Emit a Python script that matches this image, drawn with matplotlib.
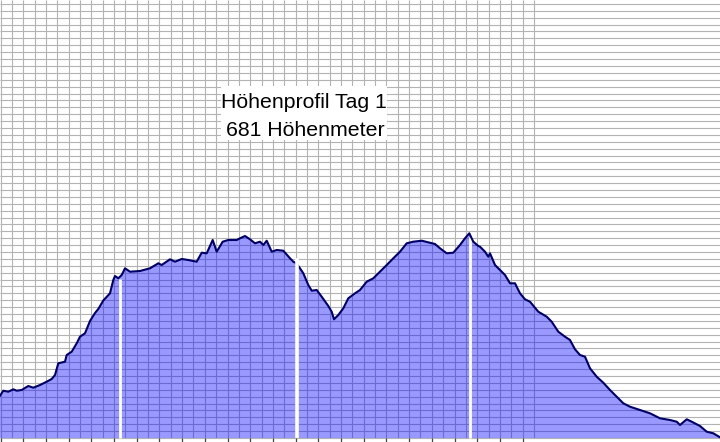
import numpy as np
import matplotlib
matplotlib.use("Agg")
import matplotlib.pyplot as plt
from matplotlib.patches import Rectangle

# Hoehenprofil Tag 1 (Strecke / Hoehe, Bildeinheiten)
dist = [0, 3.3, 8.3, 13.3, 16.7, 21.7, 28.3, 33.3, 40, 46.7, 51.7, 55, 58.3, 65, 66.7,
        71.7, 76.7, 80, 85, 90, 95, 98.3, 103.3, 110, 113.3, 115, 118.3, 121.7, 125,
        130, 140, 150, 158.3, 161.7, 170, 175, 181.7, 188.3, 196.7, 201.7, 206.7,
        212.7, 216.7, 222.7, 228.3, 236.7, 240, 245, 250, 255, 260, 263.3, 266.7,
        271.7, 276.7, 283.3, 290, 293.3, 296, 299.3, 303.3, 308.3, 311.7, 316.7,
        321.7, 328.3, 331.7, 334, 338.3, 343.3, 348.3, 355, 360, 366.7, 373.3, 380,
        386.7, 393.3, 400, 406.7, 413.3, 421.7, 430, 435, 440, 446.7, 453.3, 460,
        465, 469.3, 473.3, 478.3, 480, 485, 488.3, 490, 495, 500, 505, 510, 515,
        520, 525, 530, 538.3, 546.7, 551.7, 558.3, 565, 570, 575, 580, 585, 590,
        596.7, 603.3, 610, 616.7, 623.3, 630, 640, 650, 660, 670, 676.7, 680,
        686.7, 691.7, 700, 706.7, 713.3, 720]
hoehe = [46.3, 51.3, 50.3, 52.7, 51.3, 52, 56, 54.3, 57, 60.3, 63, 67, 78.7, 80.3, 87,
         90.3, 98.7, 105.3, 108.7, 121, 129, 133, 141.5, 148.7, 162, 166, 163.7, 167,
         173.7, 170.3, 171, 173.7, 178.7, 177, 182.7, 180.3, 183, 182, 180.3, 189.3,
         188.7, 202, 190.3, 200.3, 202, 202, 203.7, 206, 202.7, 198.7, 200.3, 197,
         201.3, 190.3, 192, 191.3, 183.7, 180.3, 179, 174.7, 168.7, 157, 151.3, 152,
         145.3, 136, 130.3, 122.7, 127, 133.7, 143.7, 148.7, 152, 160.3, 163.7,
         170.3, 177, 183.7, 190.3, 198.7, 200.3, 201.3, 199.3, 198, 193.7, 188.7,
         189.3, 197, 203.7, 208.7, 200.3, 196, 195.3, 190.3, 185.3, 188.7, 177,
         172, 167, 158.7, 158.7, 148.7, 142.7, 140.3, 130.3, 125.3, 120.3, 110.3,
         105.3, 102, 92.7, 87, 85.3, 73.7, 65.3, 59.3, 52, 45.3, 38.7, 35.3, 32,
         28.7, 23.7, 22, 20.3, 17, 22.7, 20.3, 16, 10.3, 8.7, 4.7]

# Pausen / Etappenmarken (weisse Linien)
pausen = [120, 297, 470]

titel = "Höhenprofil Tag 1"
untertitel = "681 Höhenmeter"

fig = plt.figure(figsize=(7.2, 4.42), dpi=100)
ax = fig.add_axes([0, 0, 1, 1])
ax.set_xlim(0, 720)
ax.set_ylim(0, 442)
ax.axis('off')

# Millimeterpapier-Raster
boden = 4
gx = 0.5 + 11.35 * np.arange(48)
gy = boden + 6.89 * np.arange(64)
ax.vlines(gx, boden, 442, color='#b3b3b3', lw=0.8, zorder=1)
ax.hlines(gy, 0, 720, color='#b3b3b3', lw=0.8, zorder=1)
ax.vlines(gx[::2], 0, boden, color='#444444', lw=0.9, zorder=1)

# Flaeche + Linie
ax.fill_between(dist, hoehe, boden, color='blue', alpha=0.4, lw=0, zorder=2)
for xp in pausen:
    top = np.interp(xp, dist, hoehe)
    if xp == 297:
        ax.vlines(xp, boden, top + 6, color='white', lw=2.6, zorder=5)
    else:
        ax.vlines(xp, boden, top - 2, color='white', lw=2.0, zorder=3)
ax.plot(dist, hoehe, color='#000066', lw=1.5, zorder=4)

# Titel mit weissem Kasten
ax.add_patch(Rectangle((221, 302), 166, 54, facecolor='white', edgecolor='none', zorder=6))
ax.text(304, 333.7, titel, ha='center', va='baseline', fontsize=15.3,
        family='Liberation Sans', color='black', zorder=7)
ax.text(305, 306, untertitel, ha='center', va='baseline', fontsize=15.3,
        family='Liberation Sans', color='black', zorder=7)

fig.savefig('out.png', dpi=100)
